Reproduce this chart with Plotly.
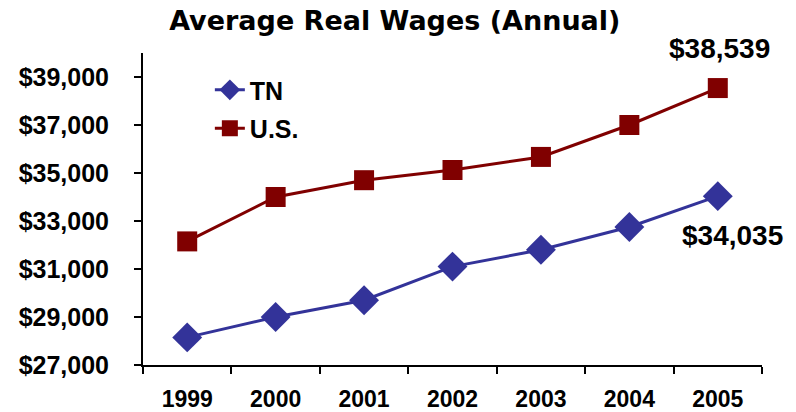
import plotly.graph_objects as go

years = ["1999", "2000", "2001", "2002", "2003", "2004", "2005"]
tn_wages = [28150, 29000, 29700, 31100, 31800, 32750, 34035]
us_wages = [32150, 34000, 34700, 35125, 35670, 37000, 38539]
y_ticks = list(range(27000, 40000, 2000))

FONT = "Liberation Sans, Arial, sans-serif"
TITLE_FONT = "DejaVu Sans, Liberation Sans, Arial, sans-serif"
TN_COLOR = "#333399"
US_COLOR = "#800000"

fig = go.Figure()
fig.add_trace(go.Scatter(
    x=years, y=tn_wages, name="<b>TN</b>", mode="lines+markers", legendgroup="tn",
    line=dict(color=TN_COLOR, width=3),
    marker=dict(symbol="diamond", size=23, color=TN_COLOR),
))
fig.add_trace(go.Scatter(
    x=years, y=us_wages, name="<b>U.S.</b>", mode="lines+markers", legendgroup="us",
    line=dict(color=US_COLOR, width=3),
    marker=dict(symbol="square", size=20, color=US_COLOR),
))

last = len(years) - 1
fig.add_annotation(x=last, y=us_wages[-1], text=f"<b>${us_wages[-1]:,}</b>",
                   showarrow=False, yshift=40, xshift=2,
                   font=dict(family=FONT, size=28, color="black"))
fig.add_annotation(x=last, y=tn_wages[-1], text=f"<b>${tn_wages[-1]:,}</b>",
                   showarrow=False, yshift=-39, xshift=15,
                   font=dict(family=FONT, size=28, color="black"))

fig.update_layout(
    width=796, height=412,
    margin=dict(l=143, r=34, t=53, b=47),
    paper_bgcolor="white", plot_bgcolor="white",
    title=dict(text="<b>Average Real Wages (Annual)</b>", x=0.496, xanchor="center",
               y=0.951, yref="container", yanchor="middle",
               font=dict(family=TITLE_FONT, size=27, color="black")),
    font=dict(family=FONT, color="black"),
    showlegend=True,
    legend=dict(x=0.108, y=0.955, xanchor="left", yanchor="top",
                font=dict(family=FONT, size=25, color="black"),
                bgcolor="rgba(0,0,0,0)", tracegroupgap=3),
    xaxis=dict(type="category", range=[-0.5, 6.5], showline=True, linecolor="black",
               linewidth=2, ticks="outside", tickson="boundaries", ticklen=7,
               tickwidth=2, tickcolor="black", showgrid=False, zeroline=False,
               tickvals=years, ticktext=[f"<b>{y}</b>" for y in years],
               tickfont=dict(family=FONT, size=23, color="black"),
               ticklabelstandoff=12, automargin=False, fixedrange=True),
    yaxis=dict(range=[27000, 40000], showline=True, linecolor="black", linewidth=2,
               ticks="outside", ticklen=7, tickwidth=2, tickcolor="black",
               showgrid=False, zeroline=False, automargin=False,
               tickvals=y_ticks, ticktext=[f"<b>${v:,}</b>" for v in y_ticks],
               tickfont=dict(family=FONT, size=25, color="black"),
               ticklabelstandoff=20),
)

fig.write_html("out.html", config={"displayModeBar": False},
               post_script="document.body.style.margin='0';document.body.style.overflow='hidden';")
